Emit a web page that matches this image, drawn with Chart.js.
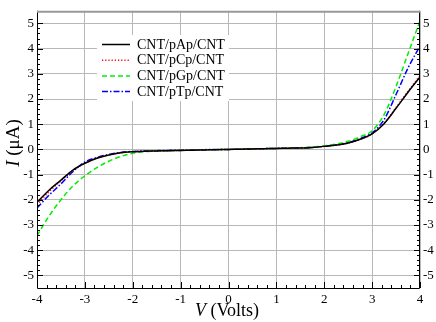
<!DOCTYPE html>
<html><head><meta charset="utf-8">
<script src="https://cdn.jsdelivr.net/npm/chart.js@4"></script>
<style>html,body{margin:0;padding:0;background:#fff}#wrap{width:436px;height:322px}</style>
</head><body><div id="wrap"><canvas id="c" width="436" height="322"></canvas></div>
<script>
const voltage = [-4,-3.75,-3.5,-3.25,-3,-2.75,-2.5,-2.25,-2,-1.75,-1.5,-1.25,-1,-0.75,-0.5,-0.25,0,0.25,0.5,0.75,1,1.25,1.5,1.75,2,2.25,2.5,2.75,3,3.25,3.5,3.75,4];
const pAp = [-2.1,-1.62,-1.22,-0.82,-0.55,-0.35,-0.22,-0.13,-0.09,-0.07,-0.06,-0.05,-0.04,-0.03,-0.02,-0.01,0,0.01,0.02,0.03,0.04,0.05,0.06,0.08,0.12,0.17,0.25,0.4,0.62,1.02,1.63,2.27,2.87];
const pCp = [-2.2,-1.68,-1.25,-0.84,-0.55,-0.35,-0.22,-0.13,-0.09,-0.07,-0.06,-0.05,-0.04,-0.03,-0.02,-0.01,0,0.01,0.02,0.03,0.04,0.05,0.06,0.08,0.12,0.17,0.25,0.4,0.62,1.04,1.66,2.31,2.92];
const pGp = [-3.42,-2.65,-2.0,-1.45,-1.05,-0.72,-0.47,-0.28,-0.15,-0.09,-0.06,-0.05,-0.04,-0.03,-0.02,-0.01,0,0.01,0.02,0.03,0.04,0.05,0.07,0.1,0.14,0.21,0.32,0.5,0.74,1.38,2.5,3.8,5.1];
const pTp = [-2.33,-1.82,-1.37,-0.88,-0.5,-0.32,-0.2,-0.12,-0.08,-0.06,-0.05,-0.04,-0.03,-0.02,-0.01,0,0,0.01,0.02,0.03,0.04,0.05,0.06,0.08,0.12,0.18,0.27,0.43,0.66,1.18,2.18,3.23,4.1];
const seriesLabels = ['CNT/pAp/CNT','CNT/pCp/CNT','CNT/pGp/CNT','CNT/pTp/CNT'];
const xTicks = [-4,-3,-2,-1,0,1,2,3,4];
const yTicks = [-5,-4,-3,-2,-1,0,1,2,3,4,5];

const styles = [
  {color:'#000000', dash:[]},
  {color:'#ff0000', dash:[1.2,2]},
  {color:'#00ee00', dash:[5,3]},
  {color:'#0000ff', dash:[6,2,1.5,2]}
];
const seriesData = [pAp,pCp,pGp,pTp];
const SERIF = '"Liberation Serif","DejaVu Serif",serif';

const datasets = seriesData.map((arr,i)=>({
  label: seriesLabels[i],
  data: voltage.map((v,j)=>({x:v,y:arr[j]})),
  borderColor: styles[i].color,
  borderDash: styles[i].dash,
  borderWidth: 1.5,
  pointRadius: 0,
  fill: false,
  cubicInterpolationMode: 'monotone',
  yAxisID: 'y'
}));

const decor = {
  id:'decor',
  afterDraw(chart){
    const ctx = chart.ctx, ca = chart.chartArea;
    const xs = chart.scales.x, ys = chart.scales.y;
    ctx.save();
    ctx.strokeStyle = '#000'; ctx.lineWidth = 1; ctx.setLineDash([]);
    ctx.beginPath();
    ctx.moveTo(ca.left+0.5, ca.top); ctx.lineTo(ca.left+0.5, ca.bottom+0.5);
    ctx.lineTo(ca.right-0.5, ca.bottom+0.5); ctx.lineTo(ca.right-0.5, ca.top);
    ctx.stroke();
    ctx.strokeStyle = '#999'; ctx.lineWidth = 2;
    ctx.beginPath(); ctx.moveTo(ca.left, ca.top+1); ctx.lineTo(ca.right, ca.top+1); ctx.stroke();
    ctx.strokeStyle = '#000'; ctx.lineWidth = 1;
    ctx.beginPath();
    for (let k=-20;k<=20;k++){
      const v = k/5; const px = Math.round(xs.getPixelForValue(v))+0.5;
      const len = (k%5===0)?6:3;
      ctx.moveTo(px, ca.bottom); ctx.lineTo(px, ca.bottom-len);
    }
    for (let k=-25;k<=25;k++){
      const v = k/5; const py = Math.round(ys.getPixelForValue(v))+0.5;
      const len = (k%5===0)?6:3;
      ctx.moveTo(ca.left, py); ctx.lineTo(ca.left+len, py);
      ctx.moveTo(ca.right, py); ctx.lineTo(ca.right-len, py);
    }
    ctx.stroke();
    const lx = 97, ly = 35, lw = 132, lh = 66;
    ctx.fillStyle = '#fff'; ctx.fillRect(lx, ly, lw, lh);
    ctx.font = '14px '+SERIF; ctx.textBaseline = 'middle'; ctx.textAlign='left';
    chart.data.datasets.forEach((ds,i)=>{
      const y = 44.5 + i*15.7;
      ctx.strokeStyle = ds.borderColor; ctx.lineWidth = 1.5; ctx.setLineDash(ds.borderDash);
      ctx.beginPath(); ctx.moveTo(102, y); ctx.lineTo(130, y); ctx.stroke();
      ctx.setLineDash([]);
      ctx.fillStyle = '#000'; ctx.fillText(ds.label, 137, y+0.5);
    });
    ctx.fillStyle = '#000'; ctx.textBaseline = 'alphabetic';
    const drawMixed = (parts, cx, cy, rot) => {
      ctx.save(); ctx.translate(cx, cy); if (rot) ctx.rotate(rot);
      let total = 0;
      parts.forEach(p=>{ ctx.font = p.f; total += ctx.measureText(p.t).width; });
      let x = -total/2;
      parts.forEach(p=>{ ctx.font = p.f; ctx.fillText(p.t, x, 0); x += ctx.measureText(p.t).width; });
      ctx.restore();
    };
    drawMixed([{t:'V',f:'italic 18px '+SERIF},{t:' (Volts)',f:'18px '+SERIF}], 227, 316, 0);
    drawMixed([{t:'I',f:'italic 19px '+SERIF},{t:' (μA)',f:'19px '+SERIF}], 19, 143, -Math.PI/2);
    ctx.restore();
  }
};

new Chart(document.getElementById('c'), {
  type:'line',
  data:{datasets},
  options:{
    responsive:false, animation:false,
    layout:{padding:{top:1,left:0,right:0,bottom:0}},
    plugins:{legend:{display:false}, tooltip:{enabled:false}},
    scales:{
      x:{type:'linear', min:-4, max:4,
        afterBuildTicks(s){ s.ticks = xTicks.map(v=>({value:v})); },
        afterFit(s){ s.height = 34; },
        grid:{color:'#b8b8b8', lineWidth:1, drawTicks:false},
        border:{display:false},
        ticks:{font:{family:SERIF,size:13}, color:'#000', padding:4, maxRotation:0}
      },
      y:{type:'linear', position:'left', min:-5.5, max:5.5,
        afterBuildTicks(s){ s.ticks = yTicks.map(v=>({value:v})); },
        afterFit(s){ s.width = 37; },
        grid:{color:'#b8b8b8', lineWidth:1, drawTicks:false},
        border:{display:false},
        ticks:{font:{family:SERIF,size:13}, color:'#000', padding:3}
      },
      y2:{type:'linear', position:'right', min:-5.5, max:5.5,
        afterBuildTicks(s){ s.ticks = yTicks.map(v=>({value:v})); },
        afterFit(s){ s.width = 16; },
        grid:{display:false, drawTicks:false},
        border:{display:false},
        ticks:{font:{family:SERIF,size:13}, color:'#000', padding:3}
      }
    }
  },
  plugins:[decor]
});
</script></body></html>
